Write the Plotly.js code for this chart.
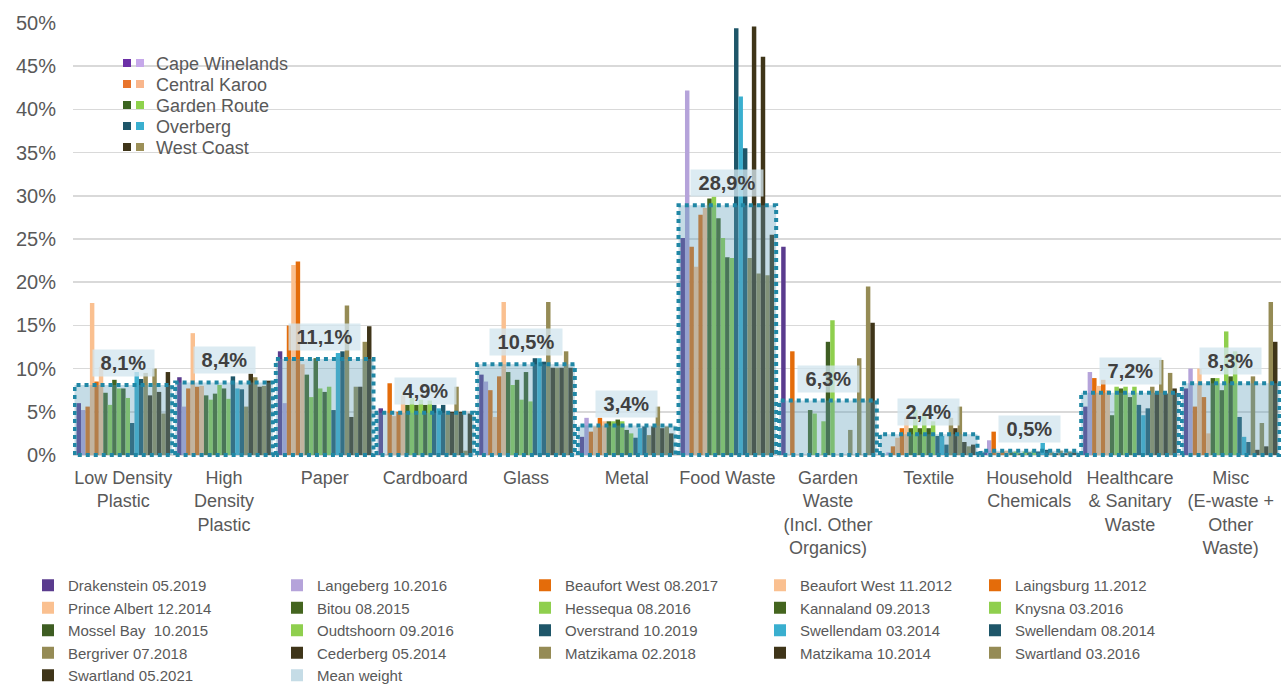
<!DOCTYPE html>
<html><head><meta charset="utf-8">
<script src="https://cdn.plot.ly/plotly-3.0.1.min.js"></script>
<style>html,body{margin:0;padding:0;background:#fff}#chart{width:1287px;height:689px}</style>
</head><body><div id="chart"></div>
<script>
// ---------------- DATA ----------------
const categories = ['Low Density<br>Plastic', 'High<br>Density<br>Plastic', 'Paper', 'Cardboard', 'Glass', 'Metal',
  'Food Waste', 'Garden<br>Waste<br>(Incl. Other<br>Organics)', 'Textile', 'Household<br>Chemicals',
  'Healthcare<br>& Sanitary<br>Waste', 'Misc<br>(E-waste +<br>Other<br>Waste)'];

const meanWeight = [8.1, 8.4, 11.1, 4.9, 10.5, 3.4, 28.9, 6.3, 2.4, 0.5, 7.2, 8.3];

const seriesNames = ['Drakenstein 05.2019', 'Langeberg 10.2016', 'Beaufort West 08.2017', 'Beaufort West 11.2012',
  'Laingsburg 11.2012', 'Prince Albert 12.2014', 'Bitou 08.2015', 'Hessequa 08.2016', 'Kannaland 09.2013',
  'Knysna 03.2016', 'Mossel Bay\u00a0 10.2015', 'Oudtshoorn 09.2016', 'Overstrand 10.2019', 'Swellendam 03.2014',
  'Swellendam 08.2014', 'Bergriver 07.2018', 'Cederberg 05.2014', 'Matzikama 02.2018', 'Matzikama 10.2014',
  'Swartland 03.2016', 'Swartland 05.2021'];

const drakenstein2019   = [6.0, 9.0, 12.0, 5.4, 9.3, 2.1, 25.1, 24.1, 0, 0.3, 5.6, 7.7];
const langeberg2016     = [5.2, 5.6, 6.0, 0, 8.5, 4.3, 42.2, 0, 0.3, 1.7, 9.6, 10.0];
const beaufortWest2017  = [5.6, 7.7, 15.0, 8.3, 7.5, 2.7, 24.1, 12.0, 1.0, 2.7, 8.9, 5.6];
const beaufortWest2012  = [17.6, 14.1, 22.0, 4.5, 4.4, 3.3, 21.8, 0, 2.0, 0.3, 8.0, 10.0];
const laingsburg2012    = [8.5, 7.9, 22.4, 5.0, 9.1, 4.3, 27.8, 0, 3.1, 0.4, 8.7, 6.7];
const princeAlbert2014  = [10.2, 8.0, 10.5, 6.9, 17.7, 3.9, 28.6, 0, 4.3, 0.5, 7.5, 2.5];
const bitou2015         = [7.2, 6.9, 9.3, 5.8, 9.6, 3.9, 29.7, 5.2, 3.1, 0.3, 4.6, 8.9];
const hessequa2016      = [5.8, 6.4, 6.7, 6.6, 8.1, 3.9, 29.9, 4.8, 5.2, 0.4, 7.9, 8.9];
const kannaland2013     = [8.7, 7.1, 11.2, 5.8, 8.7, 4.1, 27.4, 0, 3.1, 0.2, 7.7, 7.5];
const knysna2016        = [7.7, 8.1, 7.7, 6.4, 6.4, 3.9, 25.1, 3.9, 4.8, 0.4, 7.9, 14.3];
const mosselBay2015     = [7.7, 7.7, 7.3, 5.8, 9.6, 2.9, 22.9, 13.1, 3.1, 0.3, 6.7, 9.1];
const oudtshoorn2016    = [6.6, 6.5, 7.9, 6.3, 6.2, 2.5, 22.8, 15.6, 3.9, 0.5, 7.9, 12.0];
const overstrand2019    = [3.7, 9.1, 5.2, 5.8, 11.2, 2.0, 49.4, 0, 2.2, 0.4, 5.8, 4.4];
const swellendam032014  = [9.6, 7.7, 11.8, 5.4, 11.2, 3.1, 41.5, 0, 2.2, 1.4, 4.6, 2.1];
const swellendam082014  = [8.8, 7.6, 12.0, 5.8, 10.8, 3.3, 35.5, 0, 1.2, 0.6, 5.4, 1.5];
const bergriver2018     = [9.5, 5.6, 17.3, 4.8, 17.7, 2.3, 22.8, 2.9, 4.3, 0.3, 7.9, 9.1];
const cederberg2014     = [6.9, 9.4, 4.4, 5.0, 10.1, 3.3, 49.6, 0, 3.1, 0.2, 7.2, 0.6];
const matzikama2018     = [10.0, 9.0, 7.9, 7.9, 10.1, 5.6, 21.0, 11.2, 5.6, 0.5, 11.0, 3.7];
const matzikama2014     = [7.3, 7.9, 7.9, 5.0, 10.1, 3.1, 46.1, 0, 1.5, 0.2, 7.1, 1.0];
const swartland2016     = [4.8, 8.0, 13.1, 0.5, 12.0, 3.3, 20.8, 19.5, 1.0, 0.4, 9.5, 17.7];
const swartland2021     = [9.6, 8.6, 14.9, 4.8, 10.1, 2.5, 25.5, 15.3, 1.2, 0.3, 7.7, 13.1];

const seriesValues = [drakenstein2019, langeberg2016, beaufortWest2017, beaufortWest2012, laingsburg2012,
  princeAlbert2014, bitou2015, hessequa2016, kannaland2013, knysna2016, mosselBay2015, oudtshoorn2016,
  overstrand2019, swellendam032014, swellendam082014, bergriver2018, cederberg2014, matzikama2018,
  matzikama2014, swartland2016, swartland2021];

const regionNames = ['Cape Winelands', 'Central Karoo', 'Garden Route', 'Overberg', 'West Coast'];
const yTickValues = [0, 5, 10, 15, 20, 25, 30, 35, 40, 45, 50];

// ---------------- STYLE ----------------
const seriesColors = ['#5A3B8E', '#B5A3DA', '#E46C0A', '#FAC090', '#E46C0A', '#FAC090',
  '#44651F', '#8FCF4E', '#44651F', '#8FCF4E', '#3E5D22', '#8FCF4E',
  '#1E5669', '#3AAFCF', '#1E5669', '#958B55', '#3F3519', '#958B55', '#3F3519', '#958B55', '#3F3519'];
const regionDark = ['#6B2FA6', '#E8742C', '#3A6420', '#1E5669', '#3F3519'];
const regionLight = ['#C6A8EA', '#F9B68C', '#8ED24C', '#3AAFCF', '#9C9058'];

const FONT = 'Liberation Sans, Arial, sans-serif';
const GREY = '#595959';
const W_FIG = 1287, H_FIG = 689;
const M = {l: 73, r: 6, t: 23, b: 231, autoexpand: false};
const PW = W_FIG - M.l - M.r, PH = H_FIG - M.t - M.b;
const px = x => (x - M.l) / PW;
const py = y => (H_FIG - M.b - y) / PH;

const xIdx = categories.map((c, i) => i);
const legendIds = ['legend', 'legend2', 'legend3', 'legend4', 'legend5'];
const legendLefts = [28, 277, 525, 760, 975];

const traces = seriesNames.map((name, k) => ({
  type: 'bar', name: name, x: xIdx, y: seriesValues[k],
  marker: {color: seriesColors[k], line: {width: 0}},
  legend: legendIds[k % 5], hoverinfo: 'skip'
}));

const HALF = 0.485;
traces.push({
  type: 'bar', name: 'Mean weight', x: xIdx, y: meanWeight, offset: -HALF, width: 2 * HALF,
  marker: {color: 'rgba(95,158,186,0.36)', line: {width: 0}},
  legend: legendIds[seriesNames.length % 5], hoverinfo: 'skip'
});

const ox = [], oy = [];
meanWeight.forEach((m, i) => {
  ox.push(i - HALF, i - HALF, i + HALF, i + HALF, i - HALF, null);
  oy.push(0, m, m, 0, 0, null);
});
traces.push({
  type: 'scatter', mode: 'lines', x: ox, y: oy, showlegend: false, hoverinfo: 'skip',
  line: {color: '#2087A5', width: 4, dash: 'dot'}
});

const annotations = meanWeight.map((m, i) => ({
  x: i, y: m, xref: 'x', yref: 'y', showarrow: false, yanchor: 'bottom', yshift: 8,
  text: '<b>\u00a0' + m.toFixed(1).replace('.', ',') + '%\u00a0</b>',
  font: {family: FONT, size: 20, color: '#404040'},
  bgcolor: 'rgba(210,229,238,0.78)', borderpad: 2
}));

const shapes = [];
const rowY = [63, 84, 105, 126, 147];
regionNames.forEach((r, i) => {
  shapes.push({type: 'rect', xref: 'paper', yref: 'paper', x0: px(123), x1: px(131), y0: py(rowY[i] + 4), y1: py(rowY[i] - 4),
    fillcolor: regionDark[i], line: {width: 0}});
  shapes.push({type: 'rect', xref: 'paper', yref: 'paper', x0: px(136), x1: px(144), y0: py(rowY[i] + 4), y1: py(rowY[i] - 4),
    fillcolor: regionLight[i], line: {width: 0}});
  annotations.push({xref: 'paper', yref: 'paper', x: px(154), y: py(rowY[i] + 1), xanchor: 'left', yanchor: 'middle',
    showarrow: false, text: r, font: {family: FONT, size: 18, color: GREY}});
});

const layout = {
  width: W_FIG, height: H_FIG, margin: M,
  paper_bgcolor: '#fff', plot_bgcolor: '#fff',
  font: {family: FONT, color: GREY},
  barmode: 'group', bargap: 0.07, bargroupgap: 0,
  xaxis: {range: [-0.5, 11.5], tickvals: xIdx, ticktext: categories, showgrid: false, zeroline: false,
    showline: false, ticks: '', tickfont: {family: FONT, size: 18, color: GREY}, ticklabelstandoff: 7, fixedrange: true},
  yaxis: {range: [-0.35, 50], tickvals: yTickValues, ticktext: yTickValues.map(v => v + '%'),
    showgrid: true, gridcolor: '#D9D9D9', gridwidth: 1.5, zeroline: false, showline: false, ticks: '',
    tickfont: {family: FONT, size: 20, color: GREY}, ticklabelstandoff: 16, fixedrange: true},
  annotations: annotations, shapes: shapes, showlegend: true
};
legendIds.forEach((id, c) => {
  layout[id] = {x: px(legendLefts[c]), y: py(569), xanchor: 'left', yanchor: 'top', orientation: 'v',
    font: {family: FONT, size: 15, color: GREY}, bgcolor: 'rgba(0,0,0,0)', itemwidth: 30,
    traceorder: 'normal', tracegroupgap: 0};
});

Plotly.newPlot('chart', traces, layout, {displayModeBar: false, staticPlot: true});
</script>
</body></html>
